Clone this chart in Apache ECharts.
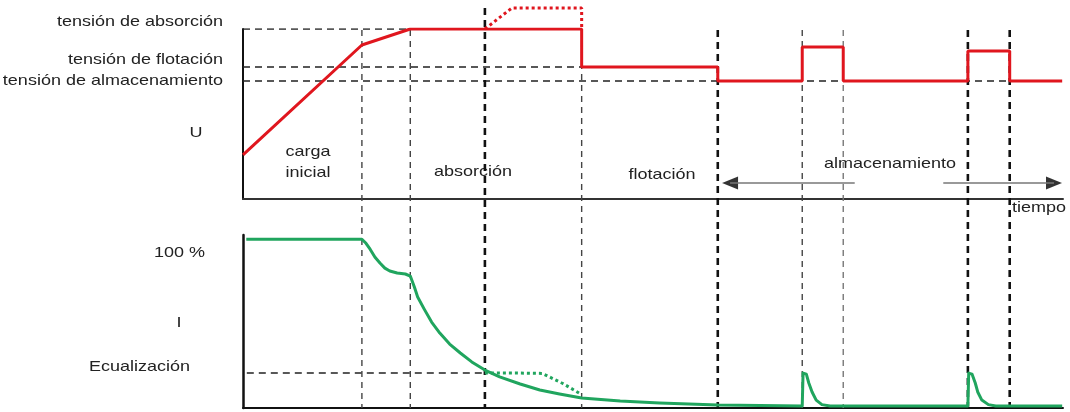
<!DOCTYPE html>
<html>
<head>
<meta charset="utf-8">
<script src="https://cdn.jsdelivr.net/npm/echarts@6/dist/echarts.min.js"></script>
<style>
  html, body { margin: 0; padding: 0; background: #fff; }
  #chart { width: 1070px; height: 412px; }
</style>
</head>
<body>
<div id="chart"></div>
<script>
// tiempo relativo 0..100, U e I en % de su escala
var uTime = [0, 14.5, 20.4, 41.3, 41.3, 57.9, 57.9, 68.2, 68.2, 73.2, 73.2, 88.4, 88.4, 93.5, 93.5, 99.9]
var uValue = [25.9, 90.6, 100, 100, 77.6, 77.6, 69.4, 69.4, 89.4, 89.4, 69.4, 69.4, 87.1, 87.1, 69.4, 69.4]
var uEqTime = [29.5, 32.8, 41.3, 41.3]
var uEqValue = [100, 112.4, 112.4, 100]

var iTime = [0.4, 14.5, 15.0, 15.5, 16.1, 16.7, 17.3, 17.9, 18.8, 19.8, 20.4, 20.9, 21.3, 22.1, 23.0, 24.0,
  25.2, 26.5, 27.9, 29.5, 31.3, 33.8, 36.2, 38.6, 41.3, 46.0, 50.8, 57.9,
  68.2, 68.3, 68.7, 69.0, 69.4, 69.9, 70.6, 71.6,
  88.4, 88.5, 88.9, 89.3, 89.6, 90.1, 90.9, 91.8, 99.9]
var iValue = [100, 100, 97.6, 94.1, 89.3, 85.9, 82.9, 81.2, 80.0, 79.4, 78.2, 71.7, 65.8, 58.6, 50.9, 44.4,
  37.9, 32.6, 27.3, 22.5, 18.4, 14.2, 10.7, 8.3, 5.9, 4.1, 3.0, 1.8,
  1.2, 20.7, 20.1, 14.8, 9.5, 4.7, 2.0, 1.2,
  1.2, 20.7, 20.1, 14.8, 9.5, 4.7, 2.0, 1.2, 1.2]
var iEqTime = [29.5, 33.5, 36.5, 39.0, 41.3]
var iEqValue = [20.7, 20.7, 20.5, 14.5, 8]

// niveles de referencia
var levelAbsorcion = 100
var levelFlotacion = 77.6
var levelAlmacen = 69.4
var levelEcualizacion = 20.7

// líneas verticales de fase
var phaseTime = [14.5, 20.4, 29.5, 41.3, 57.9, 68.2, 73.2, 88.4, 93.5]
var phaseTop = [94.5, 94.5, 100, 94.5, 94.5, 94.5, 94.5, 94.5, 94.5]
var phaseHeavy = [false, false, true, false, true, false, false, true, true]

// flechas de almacenamiento
var arrowLeft = [59.4, 74.6]
var arrowRight = [85.4, 98.9]
var arrowLevel = 9.4

var chart = echarts.init(document.getElementById('chart'))

function pairs(xs, ys) {
  return xs.map(function (x, i) { return [x, ys[i]] })
}

var font = 'Liberation Sans, Arial, sans-serif'
function txt(text, x, y, align) {
  return {
    type: 'text',
    x: x, y: y, scaleX: 1.2,
    style: {
      text: text, fill: '#222', font: '15px ' + font,
      align: align || 'center', verticalAlign: 'middle'
    }
  }
}

var series = []

// horizontales de referencia
function hLine(x0, x1, y, xi, yi) {
  return {
    type: 'line', xAxisIndex: xi, yAxisIndex: yi, symbol: 'none', silent: true,
    data: [[x0, y], [x1, y]],
    lineStyle: { color: '#222', width: 1.5, type: [7, 5] }
  }
}
series.push(hLine(0, 41.3, levelAbsorcion, 0, 0))
series.push(hLine(0, 41.3, levelFlotacion, 0, 0))
series.push(hLine(0, 99.5, levelAlmacen, 0, 0))
series.push(hLine(-1, 29.5, levelEcualizacion, 1, 1))

// verticales de fase
phaseTime.forEach(function (t, i) {
  series.push({
    type: 'line', xAxisIndex: 2, yAxisIndex: 2, symbol: 'none', silent: true,
    data: [[t, phaseTop[i]], [t, 0]],
    lineStyle: phaseHeavy[i]
      ? { color: '#111', width: 2.6, type: [7, 5] }
      : { color: i === 6 ? '#777' : '#444', width: 1.4, type: [6, 5] }
  })
})

// U
series.push({
  type: 'line', xAxisIndex: 0, yAxisIndex: 0, symbol: 'none', clip: false,
  data: pairs(uEqTime, uEqValue),
  lineStyle: { color: '#e0161e', width: 3, type: [3, 3] }
})
series.push({
  type: 'line', xAxisIndex: 0, yAxisIndex: 0, symbol: 'none',
  data: pairs(uTime, uValue),
  lineStyle: { color: '#e0161e', width: 3 }
})

// I
series.push({
  type: 'line', xAxisIndex: 1, yAxisIndex: 1, symbol: 'none',
  data: pairs(iEqTime, iEqValue),
  lineStyle: { color: '#20a55e', width: 3, type: [3, 3] }
})
series.push({
  type: 'line', xAxisIndex: 1, yAxisIndex: 1, symbol: 'none',
  data: pairs(iTime, iValue),
  lineStyle: { color: '#20a55e', width: 3, join: 'round' }
})

// flechas
series.push({
  type: 'line', xAxisIndex: 0, yAxisIndex: 0, symbol: 'none', silent: true,
  data: pairs(arrowLeft, [arrowLevel, arrowLevel]),
  lineStyle: { color: '#777', width: 1.5 }
})
series.push({
  type: 'line', xAxisIndex: 0, yAxisIndex: 0, symbol: 'none', silent: true,
  data: pairs(arrowRight, [arrowLevel, arrowLevel]),
  lineStyle: { color: '#777', width: 1.5 }
})
series.push({
  type: 'scatter', xAxisIndex: 0, yAxisIndex: 0, silent: true,
  symbol: 'triangle', symbolSize: [13, 16], symbolRotate: 90,
  data: [[arrowLeft[0], arrowLevel]],
  itemStyle: { color: '#000' }
})
series.push({
  type: 'scatter', xAxisIndex: 0, yAxisIndex: 0, silent: true,
  symbol: 'triangle', symbolSize: [13, 16], symbolRotate: -90,
  data: [[arrowRight[1], arrowLevel]],
  itemStyle: { color: '#000' }
})

chart.setOption({
  animation: false,
  backgroundColor: '#fff',
  grid: [
    { left: 243, width: 820, top: 29, height: 170 },
    { left: 243, width: 820, top: 235, height: 173 },
    { left: 243, width: 820, top: 8, height: 400 }
  ],
  xAxis: [
    {
      type: 'value', gridIndex: 0, min: 0, max: 100,
      axisLine: { lineStyle: { color: '#333', width: 2 } },
      axisTick: { show: false }, axisLabel: { show: false }, splitLine: { show: false }
    },
    {
      type: 'value', gridIndex: 1, min: 0, max: 100,
      axisLine: { lineStyle: { color: '#111', width: 2 } },
      axisTick: { show: false }, axisLabel: { show: false }, splitLine: { show: false }
    },
    { type: 'value', gridIndex: 2, min: 0, max: 100, show: false }
  ],
  yAxis: [
    {
      type: 'value', gridIndex: 0, min: 0, max: 100,
      axisLine: { show: true, lineStyle: { color: '#111', width: 2 } },
      axisTick: { show: false }, axisLabel: { show: false }, splitLine: { show: false }
    },
    {
      type: 'value', gridIndex: 1, min: 0, max: 102.5,
      axisLine: { show: true, lineStyle: { color: '#111', width: 2.5 } },
      axisTick: { show: false }, axisLabel: { show: false }, splitLine: { show: false }
    },
    { type: 'value', gridIndex: 2, min: 0, max: 100, show: false }
  ],
  graphic: [
    txt('tensión de absorción', 223, 22, 'right'),
    txt('tensión de flotación', 223, 60, 'right'),
    txt('tensión de almacenamiento', 223, 81, 'right'),
    txt('U', 196, 133),
    txt('carga', 308, 152),
    txt('inicial', 308, 173),
    txt('absorción', 473, 172),
    txt('flotación', 662, 175),
    txt('almacenamiento', 890, 164),
    txt('tiempo', 1012, 208, 'left'),
    txt('100 %', 205, 253, 'right'),
    txt('I', 179, 323),
    txt('Ecualización', 190, 367, 'right')
  ],
  series: series
})
</script>
</body>
</html>
